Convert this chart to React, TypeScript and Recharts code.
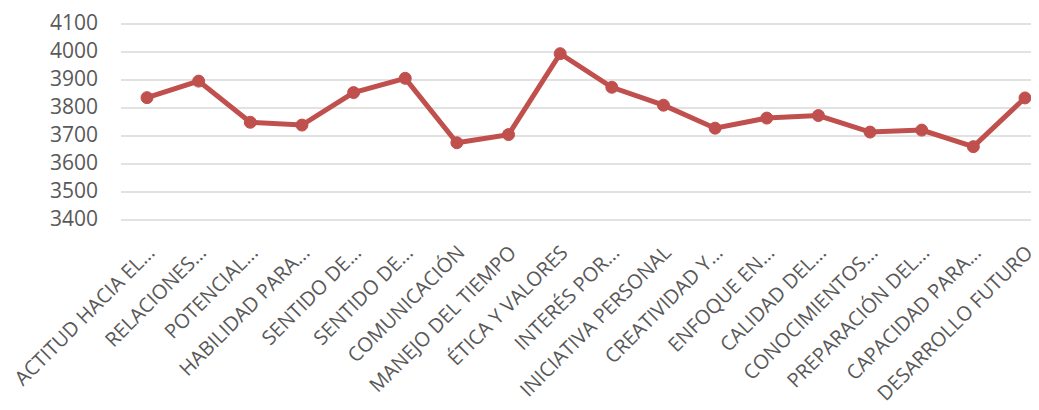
import { LineChart, Line, XAxis, YAxis, CartesianGrid } from "recharts";

// competencias evaluadas y puntaje total de cada una
const competencias = [
  "ACTITUD HACIA EL...",
  "RELACIONES...",
  "POTENCIAL...",
  "HABILIDAD PARA...",
  "SENTIDO DE...",
  "SENTIDO DE...",
  "COMUNICACIÓN",
  "MANEJO DEL TIEMPO",
  "ÉTICA Y VALORES",
  "INTERÉS POR...",
  "INICIATIVA PERSONAL",
  "CREATIVIDAD Y...",
  "ENFOQUE EN...",
  "CALIDAD DEL...",
  "CONOCIMIENTOS...",
  "PREPARACIÓN DEL...",
  "CAPACIDAD PARA...",
  "DESARROLLO FUTURO",
];

const puntajes = [
  3837, 3896, 3749, 3739, 3855, 3906, 3676, 3705, 3994, 3874, 3810, 3728,
  3764, 3773, 3714, 3721, 3662, 3836,
];

const marcasY = [3400, 3500, 3600, 3700, 3800, 3900, 4000, 4100];

const datos = competencias.map((nombre, i) => ({
  nombre: `${i}|${nombre}`,
  valor: puntajes[i],
}));

const ROJO = "#c0504d";
const GRIS_TEXTO = "#595959";
const FUENTE = "'Open Sans', 'DejaVu Sans', sans-serif";

function EtiquetaX(props: any) {
  const { x, y, payload } = props;
  const texto = String(payload.value).split("|")[1];
  const ax = x + 4;
  const ay = y + 29;
  return (
    <text
      x={ax}
      y={ay}
      dy="0.35em"
      textAnchor="end"
      fill={GRIS_TEXTO}
      fontSize={20}
      fontFamily={FUENTE}
      transform={`rotate(-45, ${ax}, ${ay})`}
    >
      {texto}
    </text>
  );
}

function EtiquetaY(props: any) {
  const { x, y, payload } = props;
  return (
    <text
      x={x}
      y={y}
      dy="0.28em"
      textAnchor="end"
      fill={GRIS_TEXTO}
      fontSize={21}
      fontFamily={FUENTE}
    >
      {payload.value}
    </text>
  );
}

export default function App() {
  return (
    <div style={{ width: 1031, height: 402, overflow: "hidden", background: "#fff" }}>
      <LineChart
        width={1060}
        height={402}
        data={datos}
        margin={{ top: 16, right: 17, left: 0, bottom: 0 }}
      >
        <CartesianGrid vertical={false} stroke="#d9d9d9" strokeWidth={1.5} />
        <XAxis
          dataKey="nombre"
          interval={0}
          height={190}
          padding={{ left: 26, right: 26 }}
          tickSize={0}
          tickMargin={0}
          axisLine={false}
          tickLine={false}
          tick={<EtiquetaX />}
        />
        <YAxis
          domain={[3400, 4100]}
          ticks={marcasY}
          width={113}
          tickSize={0}
          tickMargin={23}
          axisLine={false}
          tickLine={false}
          tick={<EtiquetaY />}
        />
        <Line
          type="linear"
          dataKey="valor"
          stroke={ROJO}
          strokeWidth={5}
          dot={{ r: 6, fill: ROJO, stroke: ROJO, strokeWidth: 1 }}
          activeDot={false}
          isAnimationActive={false}
        />
      </LineChart>
    </div>
  );
}
